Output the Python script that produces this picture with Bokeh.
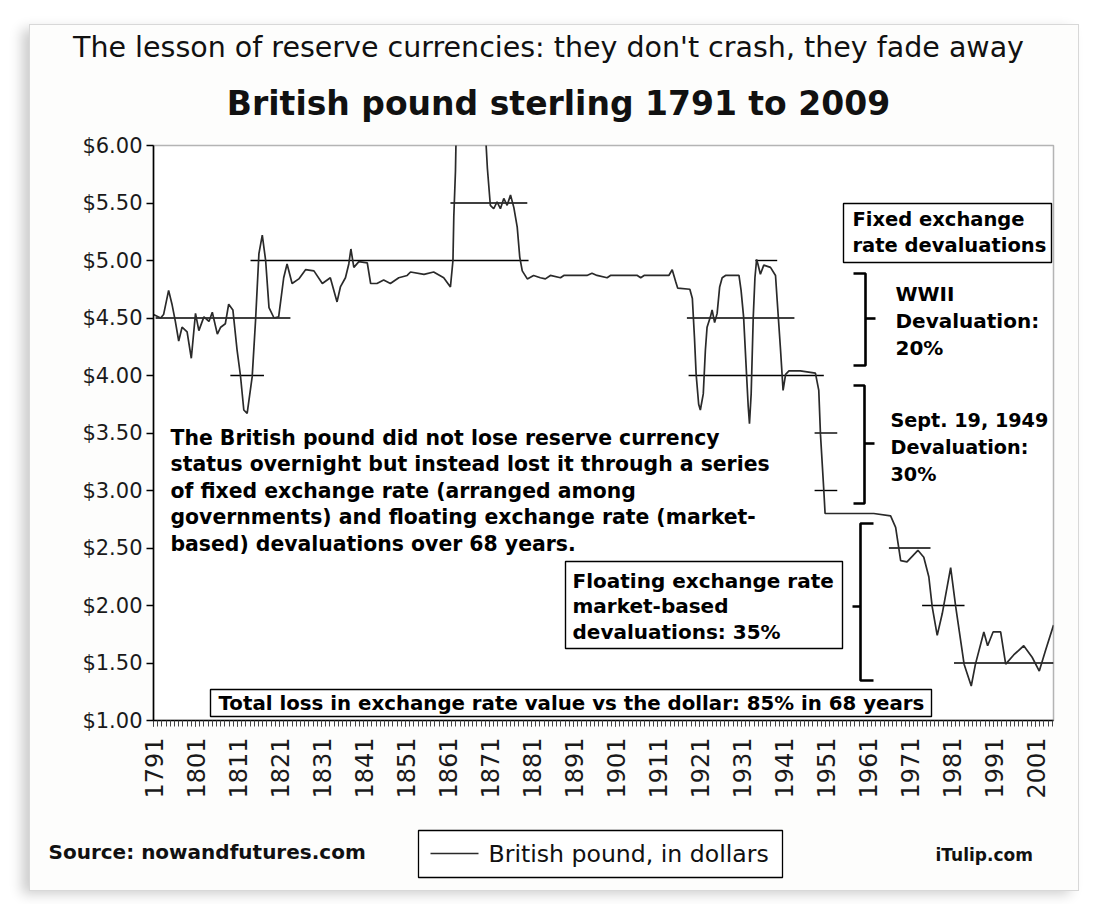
from bokeh.plotting import figure
from bokeh.layouts import column
from bokeh.models import Range1d, FixedTicker, NumeralTickFormatter, ColumnDataSource
from bokeh.core.properties import value
from bokeh.embed import file_html
from bokeh.resources import INLINE
import math

# ---------------- data ----------------
years = [1791.0, 1792.7, 1793.4, 1794.6, 1795.4, 1796.2, 1797.0, 1797.8, 1799.0, 1800.0,
         1801.0, 1801.8, 1803.0, 1804.2, 1805.0, 1806.2, 1807.0, 1808.1, 1808.9, 1809.9,
         1810.9, 1811.7, 1812.5, 1813.3, 1814.5, 1815.3, 1816.1, 1816.9, 1817.7, 1818.5,
         1819.7, 1820.8, 1822.0, 1822.8, 1824.0, 1825.6, 1827.2, 1829.2, 1831.2, 1833.1,
         1834.7, 1835.5, 1836.7, 1837.5, 1838.0, 1838.7, 1839.9, 1841.9, 1842.7, 1844.2,
         1845.8, 1847.4, 1849.4, 1851.4, 1852.2, 1855.4, 1857.7, 1860.1, 1861.7, 1862.3,
         1862.5, 1862.9, 1863.3, 1864.5, 1866.0, 1868.0, 1869.5, 1870.2, 1870.5, 1871.2,
         1872.0, 1872.8, 1873.6, 1874.4, 1875.2, 1876.0, 1876.8, 1877.6, 1878.2, 1878.8,
         1880.0, 1881.5, 1883.1, 1884.3, 1885.5, 1887.9, 1888.7, 1894.2, 1895.4, 1896.6,
         1899.0, 1899.8, 1906.2, 1907.0, 1907.8, 1913.7, 1914.5, 1915.3, 1915.8, 1918.7,
         1919.3, 1919.8, 1920.2, 1920.8, 1921.2, 1921.9, 1922.4, 1922.8, 1923.6, 1924.0,
         1924.6, 1925.2, 1925.8, 1926.4, 1927.2, 1930.4, 1930.9, 1931.5, 1932.2, 1932.6,
         1932.9, 1933.3, 1933.8, 1934.2, 1934.6, 1934.9, 1935.5, 1936.3, 1937.9, 1939.1,
         1939.5, 1940.3, 1940.9, 1941.5, 1942.3, 1945.0, 1948.6, 1949.4, 1949.8, 1950.6,
         1950.9, 1953.0, 1962.5, 1966.5, 1967.7, 1968.9, 1970.4, 1973.0, 1974.4, 1975.6,
         1976.4, 1977.6, 1978.8, 1980.8, 1982.0, 1984.0, 1985.7, 1986.7, 1988.7, 1989.6,
         1990.9, 1992.7, 1993.9, 1995.8, 1998.2, 2000.2, 2001.9, 2003.4, 2005.3]
pound_usd = [4.53, 4.50, 4.53, 4.74, 4.62, 4.47, 4.30, 4.42, 4.38, 4.15,
             4.54, 4.39, 4.51, 4.47, 4.55, 4.36, 4.42, 4.45, 4.62, 4.57,
             4.22, 4.00, 3.70, 3.67, 3.99, 4.48, 5.06, 5.22, 5.00, 4.59,
             4.50, 4.51, 4.85, 4.97, 4.80, 4.84, 4.92, 4.91, 4.80, 4.85,
             4.64, 4.77, 4.85, 4.97, 5.10, 4.94, 4.99, 4.98, 4.80, 4.80,
             4.83, 4.80, 4.85, 4.87, 4.90, 4.88, 4.90, 4.85, 4.77, 5.00,
             5.38, 5.78, 6.60, 9.00, 7.20, 6.80, 6.40, 6.00, 5.80, 5.48,
             5.45, 5.51, 5.45, 5.54, 5.48, 5.57, 5.46, 5.29, 5.03, 4.91,
             4.84, 4.87, 4.85, 4.84, 4.87, 4.85, 4.87, 4.87, 4.89, 4.87,
             4.85, 4.87, 4.87, 4.85, 4.87, 4.87, 4.92, 4.82, 4.76, 4.75,
             4.67, 4.33, 4.01, 3.75, 3.70, 3.84, 4.22, 4.42, 4.51, 4.57,
             4.46, 4.54, 4.77, 4.85, 4.87, 4.87, 4.74, 4.51, 4.01, 3.73,
             3.58, 3.84, 4.51, 4.85, 5.01, 4.97, 4.88, 4.96, 4.94, 4.87,
             4.65, 4.22, 3.87, 4.01, 4.04, 4.04, 4.02, 3.87, 3.49, 3.00,
             2.80, 2.80, 2.80, 2.78, 2.68, 2.39, 2.38, 2.48, 2.42, 2.25,
             1.99, 1.74, 1.93, 2.33, 1.99, 1.49, 1.30, 1.49, 1.77, 1.65,
             1.77, 1.77, 1.49, 1.57, 1.65, 1.55, 1.43, 1.61, 1.83]

# devaluation reference levels (fixed/target rates) and the years they span
ref_level = [4.5, 4.0, 5.0, 5.5, 4.5, 4.0, 5.0, 3.5, 3.0, 2.5, 2.0, 1.5]
ref_start = [1791.5, 1809.3, 1814.1, 1861.7, 1918.0, 1918.4, 1934.3, 1948.4, 1948.4, 1966.1, 1974.0, 1981.6]
ref_end = [1823.6, 1817.3, 1880.3, 1880.0, 1943.6, 1950.6, 1939.5, 1953.8, 1953.8, 1976.0, 1984.1, 2005.3]

y_ticks = [1.0, 1.5, 2.0, 2.5, 3.0, 3.5, 4.0, 4.5, 5.0, 5.5, 6.0]
x_label_years = list(range(1791, 2002, 10))
x_minor_years = list(range(1791, 2006))

title_top = "The lesson of reserve currencies: they don't crash, they fade away"
title_main = "British pound sterling 1791 to 2009"
legend_label = "British pound, in dollars"
source_text = "Source: nowandfutures.com"
brand_text = "iTulip.com"
para_lines = ["The British pound did not lose reserve currency",
              "status overnight but instead lost it through a series",
              "of fixed exchange rate (arranged among",
              "governments) and floating exchange rate (market-",
              "based) devaluations over 68 years."]
fixed_lines = ["Fixed exchange", "rate devaluations"]
wwii_lines = ["WWII", "Devaluation:", "20%"]
sept_lines = ["Sept. 19, 1949", "Devaluation:", "30%"]
float_lines = ["Floating exchange rate", "market-based", "devaluations: 35%"]
total_line = "Total loss in exchange rate value vs the dollar: 85% in 68 years"

# ---------------- layout (page pixels) ----------------
OX, OY = 30, 25            # top-left of the chart card on the page
CW = 1048                  # card width
HEAD_H, MAIN_H, FOOT_H = 100, 685, 80
FL, FT, FR, FB = 153, 145, 1053, 720   # plot frame on the page
X_END = 1791 + (FR - FL) / 4.2
PPY = (FR - FL) / (X_END - 1791)
PPU = (FB - FT) / 5.0
BG = "#fdfdfc"


def X(px):
    return 1791 + (px - FL) / PPY


def Y(py):
    return 6 - (py - FT) / PPU


def blank(h):
    f = figure(width=CW, height=h, output_backend="svg", toolbar_location=None,
               x_range=Range1d(0, CW), y_range=Range1d(h, 0), min_border=0,
               x_axis_type=None, y_axis_type=None)
    f.frame_align = False
    f.outline_line_color = None
    f.background_fill_color = BG
    f.border_fill_color = BG
    return f


# ---------------- header ----------------
head = blank(HEAD_H)
head.text(x=[548 - OX], y=[47 - OY], text=[title_top], text_font=value("DejaVu Sans"),
          text_font_size="28.5px", text_align="center", text_baseline="middle", text_color="#111")
head.text(x=[558 - OX], y=[103 - OY], text=[title_main], text_font=value("DejaVu Sans"),
          text_font_style="bold", text_font_size="33px", text_align="center",
          text_baseline="middle", text_color="#111")

# ---------------- main plot ----------------
top0 = OY + HEAD_H
p = figure(width=CW, height=MAIN_H, output_backend="svg", toolbar_location=None,
           x_range=Range1d(1791, X_END), y_range=Range1d(1.0, 6.0),
           min_border_left=FL - OX, min_border_right=OX + CW - FR,
           min_border_top=FT - top0, min_border_bottom=top0 + MAIN_H - FB)
p.frame_align = False
p.background_fill_color = "white"
p.border_fill_color = BG
p.outline_line_color = "#b4b4b4"
p.outline_line_width = 1.5
p.xgrid.visible = False
p.ygrid.visible = False

p.yaxis.ticker = FixedTicker(ticks=y_ticks)
p.yaxis.formatter = NumeralTickFormatter(format="$0.00")
p.yaxis.major_label_text_font = "DejaVu Sans"
p.yaxis.major_label_text_font_size = "21px"
p.yaxis.major_label_text_color = "#1a1a1a"
p.yaxis.major_tick_out = 7
p.yaxis.major_tick_in = 0
p.yaxis.minor_tick_out = 0
p.yaxis.minor_tick_in = 0
p.yaxis.major_label_standoff = 4
p.yaxis.axis_line_width = 1.6
p.yaxis.major_tick_line_width = 1.4

p.xaxis.ticker = FixedTicker(ticks=x_label_years, minor_ticks=x_minor_years)
p.xaxis.major_label_orientation = math.pi / 2
p.xaxis.major_label_text_font = "DejaVu Sans"
p.xaxis.major_label_text_font_size = "24px"
p.xaxis.major_label_text_color = "#1a1a1a"
p.xaxis.major_tick_out = 6
p.xaxis.major_tick_in = 0
p.xaxis.minor_tick_out = 6
p.xaxis.minor_tick_in = 0
p.xaxis.major_label_standoff = 11
p.xaxis.axis_line_width = 1.6
p.xaxis.minor_tick_line_color = "#444"

p.segment(x0=ref_start, y0=ref_level, x1=ref_end, y1=ref_level, line_color="black", line_width=1.4)
p.line(years, pound_usd, line_color="#2a2a2a", line_width=1.7)

bx = [[X(853), X(865), X(865), X(853)], [X(865), X(875)],
      [X(853), X(864), X(864), X(853)], [X(864), X(874)],
      [X(873), X(860), X(860), X(873)], [X(860), X(852)]]
by = [[Y(273), Y(273), Y(365), Y(365)], [Y(318), Y(318)],
      [Y(385), Y(385), Y(503), Y(503)], [Y(443), Y(443)],
      [Y(523), Y(523), Y(680), Y(680)], [Y(606), Y(606)]]
p.multi_line(bx, by, line_color="black", line_width=2.6)

p.quad(left=[X(843), X(565), X(210)], right=[X(1051), X(842), X(931)],
       top=[Y(203), Y(561), Y(689)], bottom=[Y(262), Y(648), Y(716)],
       fill_color="white", line_color="black", line_width=1.4)

tx, ty, tt, ts = [], [], [], []
for i, s in enumerate(para_lines):
    tx.append(X(170)); ty.append(Y(437 + 26.5 * i)); tt.append(s); ts.append("20.4px")
for i, s in enumerate(fixed_lines):
    tx.append(X(852)); ty.append(Y(219 + 26 * i)); tt.append(s); ts.append("19.5px")
for i, s in enumerate(wwii_lines):
    tx.append(X(895)); ty.append(Y(293 + 27 * i)); tt.append(s); ts.append("20px")
for i, s in enumerate(sept_lines):
    tx.append(X(890)); ty.append(Y(420 + 27 * i)); tt.append(s); ts.append("19.2px")
for i, s in enumerate(float_lines):
    tx.append(X(572)); ty.append(Y(580 + 25.5 * i)); tt.append(s); ts.append("20px")
tx.append(X(218)); ty.append(Y(703)); tt.append(total_line); ts.append("19.8px")
src = ColumnDataSource(dict(x=tx, y=ty, text=tt, size=ts))
p.text(x="x", y="y", text="text", source=src, text_font=value("DejaVu Sans"),
       text_font_style="bold", text_font_size="size", text_baseline="middle",
       text_align="left", text_color="black")

# ---------------- footer (source, legend, brand) ----------------
foot = blank(FOOT_H)
f0 = OY + HEAD_H + MAIN_H
foot.quad(left=[418 - OX], right=[782 - OX], top=[830 - f0], bottom=[877 - f0],
          fill_color="white", line_color="black", line_width=1.3)
foot.segment(x0=[430 - OX], y0=[853 - f0], x1=[478 - OX], y1=[853 - f0],
             line_color="#2a2a2a", line_width=1.7)
foot.text(x=[488 - OX], y=[853 - f0], text=[legend_label], text_font=value("DejaVu Sans"),
          text_font_size="23.6px", text_align="left", text_baseline="middle", text_color="#111")
foot.text(x=[48 - OX, 935 - OX], y=[851 - f0, 854 - f0], text=[source_text, brand_text],
          text_font=value("DejaVu Sans"), text_font_style="bold", text_font_size=["20px", "17px"],
          text_align="left", text_baseline="middle", text_color="#111")

layout = column(head, p, foot, spacing=0)
layout.margin = (OY, 0, 0, OX)
layout.styles = {"box-shadow": "0 0 0 1px #d8d8d8, -8px 4px 12px rgba(0,0,0,0.20)",
                 "background-color": BG}

open("out.html", "w").write(file_html(layout, INLINE))
